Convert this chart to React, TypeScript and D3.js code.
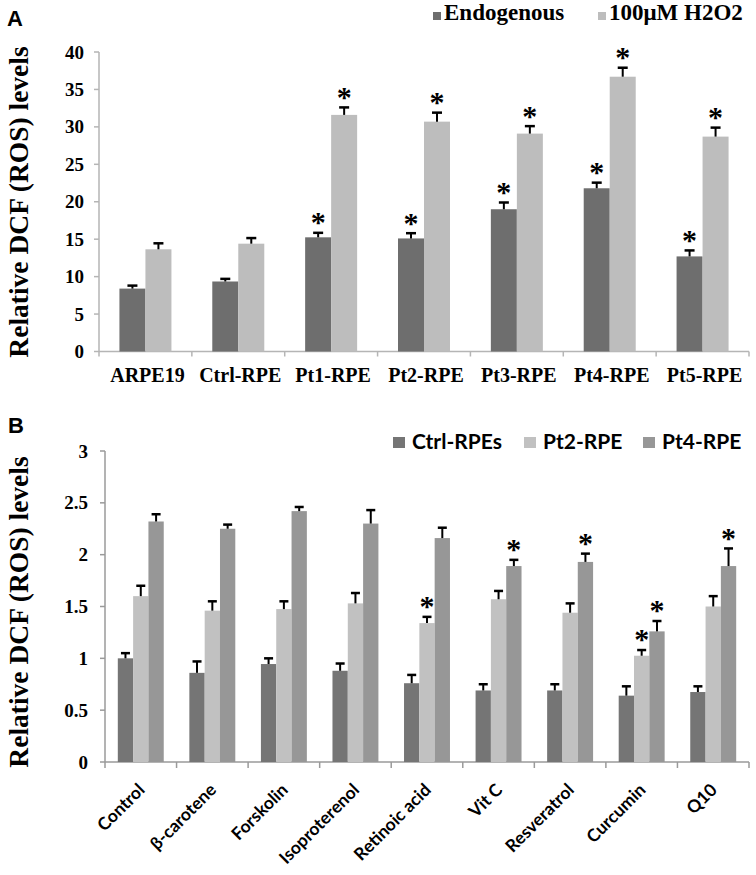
import React from "react";
import * as d3 from "d3";

// Panel A data
const catsA = ["ARPE19", "Ctrl-RPE", "Pt1-RPE", "Pt2-RPE", "Pt3-RPE", "Pt4-RPE", "Pt5-RPE"];
const seriesA = ["Endogenous", "100μM H2O2"];
const endoVals = [8.4, 9.35, 15.25, 15.1, 19.0, 21.8, 12.7];
const endoErr = [0.4, 0.35, 0.6, 0.7, 0.9, 0.75, 0.8];
const endoSig = [false, false, true, true, true, true, true];
const h2o2Vals = [13.65, 14.4, 31.6, 30.7, 29.1, 36.7, 28.7];
const h2o2Err = [0.8, 0.75, 1.0, 1.2, 1.0, 1.2, 1.2];
const h2o2Sig = [false, false, true, true, true, true, true];
const ticksA = [0, 5, 10, 15, 20, 25, 30, 35, 40];

// Panel B data
const catsB = ["Control", "β-carotene", "Forskolin", "Isoproterenol", "Retinoic acid", "Vit C", "Resveratrol", "Curcumin", "Q10"];
const seriesB = ["Ctrl-RPEs", "Pt2-RPE", "Pt4-RPE"];
const ctrlVals = [1.0, 0.86, 0.945, 0.88, 0.76, 0.69, 0.69, 0.64, 0.675];
const ctrlErr = [0.05, 0.11, 0.055, 0.07, 0.08, 0.06, 0.06, 0.09, 0.055];
const ctrlSig = [false, false, false, false, false, false, false, false, false];
const pt2Vals = [1.6, 1.46, 1.475, 1.53, 1.34, 1.57, 1.44, 1.025, 1.5];
const pt2Err = [0.1, 0.09, 0.075, 0.1, 0.06, 0.08, 0.09, 0.055, 0.1];
const pt2Sig = [false, false, false, false, true, false, false, true, false];
const pt4Vals = [2.32, 2.25, 2.42, 2.3, 2.16, 1.89, 1.93, 1.26, 1.89];
const pt4Err = [0.07, 0.04, 0.04, 0.13, 0.1, 0.06, 0.08, 0.1, 0.17];
const pt4Sig = [false, false, false, false, false, true, true, true, true];
const ticksB = [0, 0.5, 1, 1.5, 2, 2.5, 3];

const colorsA = ["#6e6e6e", "#bdbdbd"];
const colorsB = ["#757575", "#c1c1c1", "#979797"];

const SERIF = "'Liberation Serif', 'Times New Roman', serif";
const SANS = "Lato, 'Liberation Sans', Arial, sans-serif";

type Series = { vals: number[]; err: number[]; sig: boolean[] };

function Bars({ cats, series, colors, x, y, padFrac, capW, starSize }: any) {
  const bw = x.bandwidth();
  const inner = d3
    .scaleBand<number>()
    .domain(series.map((_: any, i: number) => i))
    .range([bw * padFrac, bw * (1 - padFrac)])
    .padding(0);
  const out: React.ReactNode[] = [];
  cats.forEach((c: string, ci: number) => {
    series.forEach((s: Series, si: number) => {
      const x0 = (x(c) as number) + (inner(si) as number);
      const w = inner.bandwidth();
      const v = s.vals[ci];
      const top = y(v);
      const et = y(v + s.err[ci]);
      const cx = x0 + w / 2;
      out.push(
        <g key={c + si}>
          <rect x={x0} y={top} width={w} height={y(0) - top} fill={colors[si]} />
          <line x1={cx} x2={cx} y1={top} y2={et} stroke="#000" strokeWidth={2} />
          <line x1={cx - capW / 2} x2={cx + capW / 2} y1={et} y2={et} stroke="#000" strokeWidth={2.5} />
          {s.sig[ci] && (
            <text x={cx} y={et - 15 + starSize * 0.48} textAnchor="middle" fontFamily={SERIF} fontWeight="bold" fontSize={starSize}>
              *
            </text>
          )}
        </g>
      );
    });
  });
  return <g>{out}</g>;
}

export default function App() {
  // Panel A scales
  const xA = d3.scaleBand<string>().domain(catsA).range([99, 749]).padding(0);
  const yA = d3.scaleLinear().domain([0, 40]).range([351.5, 52]);
  // Panel B scales
  const xB = d3.scaleBand<string>().domain(catsB).range([105, 749]).padding(0);
  const yB = d3.scaleLinear().domain([0, 3]).range([762, 451]);

  const sA: Series[] = [
    { vals: endoVals, err: endoErr, sig: endoSig },
    { vals: h2o2Vals, err: h2o2Err, sig: h2o2Sig },
  ];
  const sB: Series[] = [
    { vals: ctrlVals, err: ctrlErr, sig: ctrlSig },
    { vals: pt2Vals, err: pt2Err, sig: pt2Sig },
    { vals: pt4Vals, err: pt4Err, sig: pt4Sig },
  ];

  const boundsA = [...catsA.map((c) => xA(c) as number), 749];
  const boundsB = [...catsB.map((c) => xB(c) as number), 749];

  const legendAX = [433, 598];
  const legendBX = [393, 524, 643];

  return (
    <svg width={756} height={875} style={{ position: "absolute", left: 0, top: 0, background: "#fff" }}>
      <rect width={756} height={875} fill="#fff" />
      {/* Panel A */}
      <text x={7} y={26} fontFamily="'Liberation Sans', Arial, sans-serif" fontWeight="bold" fontSize={22}>A</text>
      <text transform={`translate(28,202) rotate(-90)`} textAnchor="middle" fontFamily={SERIF} fontWeight="bold" fontSize={27.5}>
        Relative DCF (ROS) levels
      </text>
      {seriesA.map((s, i) => (
        <g key={s}>
          <rect x={legendAX[i]} y={12} width={8} height={8} fill={colorsA[i]} />
          <text x={legendAX[i] + 11} y={20} fontFamily={SERIF} fontWeight="bold" fontSize={23}>{s}</text>
        </g>
      ))}
      <g>
        <line x1={99} x2={99} y1={yA(40)} y2={yA(0)} stroke="#b5b5b5" strokeWidth={1.5} />
        <line x1={99} x2={749} y1={yA(0)} y2={yA(0)} stroke="#b5b5b5" strokeWidth={1.5} />
        {ticksA.map((t) => (
          <g key={t}>
            <line x1={94} x2={99} y1={yA(t)} y2={yA(t)} stroke="#b5b5b5" strokeWidth={1.5} />
            <text x={84} y={yA(t) + 6.5} textAnchor="end" fontFamily={SERIF} fontWeight="bold" fontSize={19}>{t}</text>
          </g>
        ))}
        {boundsA.map((b, i) => (
          <line key={i} x1={b} x2={b} y1={yA(0)} y2={yA(0) + 5} stroke="#b5b5b5" strokeWidth={1.5} />
        ))}
        {catsA.map((c) => (
          <text key={c} x={(xA(c) as number) + xA.bandwidth() / 2 + 2} y={381.5} textAnchor="middle" fontFamily={SERIF} fontWeight="bold" fontSize={20}>
            {c}
          </text>
        ))}
      </g>
      <Bars cats={catsA} series={sA} colors={colorsA} x={xA} y={yA} padFrac={0.22} capW={10} starSize={30} />

      {/* Panel B */}
      <text x={8} y={433} fontFamily="'Liberation Sans', Arial, sans-serif" fontWeight="bold" fontSize={22}>B</text>
      <text transform={`translate(28,612) rotate(-90)`} textAnchor="middle" fontFamily={SERIF} fontWeight="bold" fontSize={27.5}>
        Relative DCF (ROS) levels
      </text>
      {seriesB.map((s, i) => (
        <g key={s}>
          <rect x={legendBX[i]} y={437} width={12} height={11} fill={colorsB[i]} />
          <text x={legendBX[i] + 19} y={449} fontFamily={SANS} fontWeight="bold" fontSize={21}>{s}</text>
        </g>
      ))}
      <g>
        <line x1={105} x2={105} y1={yB(3)} y2={yB(0)} stroke="#9a9a9a" strokeWidth={1.5} />
        <line x1={105} x2={749} y1={yB(0)} y2={yB(0)} stroke="#9a9a9a" strokeWidth={1.5} />
        {ticksB.map((t) => (
          <g key={t}>
            <line x1={100} x2={105} y1={yB(t)} y2={yB(t)} stroke="#9a9a9a" strokeWidth={1.5} />
            <text x={88} y={yB(t) + 6.5} textAnchor="end" fontFamily={SERIF} fontWeight="bold" fontSize={19}>{t}</text>
          </g>
        ))}
        {boundsB.map((b, i) => (
          <line key={i} x1={b} x2={b} y1={yB(0)} y2={yB(0) + 6} stroke="#9a9a9a" strokeWidth={1.5} />
        ))}
        {catsB.map((c) => (
          <text
            key={c}
            transform={`translate(${(xB(c) as number) + xB.bandwidth() / 2 + 5},${yB(0) + 29}) rotate(-45)`}
            textAnchor="end"
            fontFamily={SANS}
            fontWeight="bold"
            fontSize={17.5}
          >
            {c}
          </text>
        ))}
      </g>
      <Bars cats={catsB} series={sB} colors={colorsB} x={xB} y={yB} padFrac={0.179} capW={9} starSize={30} />
    </svg>
  );
}
